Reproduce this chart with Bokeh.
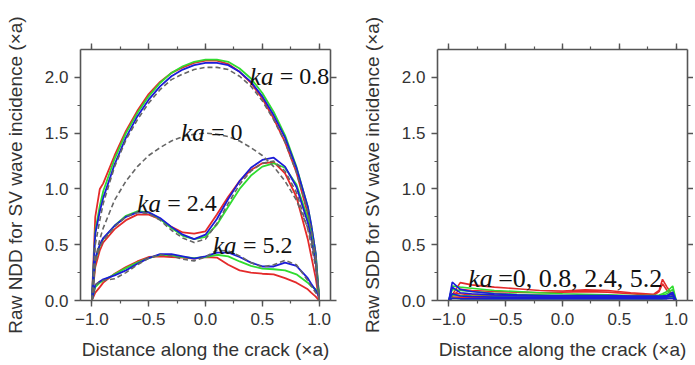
from bokeh.plotting import figure
from bokeh.layouts import row
from bokeh.models import LinearAxis, FixedTicker, CustomJSTickFormatter, Range1d
from bokeh.core.properties import value
from bokeh.embed import file_html
from bokeh.resources import INLINE

# ---------------- data ----------------
x_left = [-1, -0.97, -0.93, -0.9, -0.8, -0.7, -0.6, -0.5, -0.4, -0.3, -0.2, -0.1,
          0, 0.1, 0.2, 0.3, 0.4, 0.5, 0.6, 0.7, 0.8, 0.9, 0.93, 0.97, 1.0]

# ka = 0 (analytic, dashed)
ndd_ka0_ref = [0, 0.36, 0.55, 0.65, 0.9, 1.07, 1.2, 1.3, 1.37, 1.43, 1.47, 1.49,
               1.5, 1.49, 1.47, 1.43, 1.37, 1.3, 1.2, 1.07, 0.9, 0.65, 0.55, 0.36, 0]

# ka = 0.8
ndd_08_ref = [0, 0.5, 0.72, 0.87, 1.2, 1.44, 1.62, 1.77, 1.89, 1.98, 2.03, 2.07,
              2.09, 2.09, 2.07, 2.01, 1.92, 1.79, 1.62, 1.42, 1.15, 0.8, 0.64, 0.4, 0]
ndd_08_red = [0, 0.75, 1.0, 1.05, 1.3, 1.52, 1.7, 1.85, 1.96, 2.04, 2.09, 2.13,
              2.15, 2.15, 2.12, 2.05, 1.95, 1.81, 1.63, 1.42, 1.15, 0.78, 0.62, 0.35, 0]
ndd_08_green = [0, 0.62, 0.85, 0.98, 1.27, 1.5, 1.68, 1.83, 1.95, 2.04, 2.1, 2.14,
                2.16, 2.16, 2.14, 2.08, 1.99, 1.86, 1.69, 1.48, 1.2, 0.84, 0.68, 0.42, 0.02]
ndd_08_blue = [0, 0.6, 0.8, 0.92, 1.22, 1.46, 1.65, 1.8, 1.92, 2.01, 2.07, 2.11,
               2.13, 2.13, 2.11, 2.05, 1.96, 1.83, 1.66, 1.46, 1.19, 0.84, 0.68, 0.42, 0]

# ka = 2.4
ndd_24_ref = [0, 0.34, 0.48, 0.54, 0.66, 0.75, 0.79, 0.78, 0.72, 0.63, 0.56, 0.52,
              0.55, 0.69, 0.87, 1.04, 1.16, 1.23, 1.25, 1.16, 0.97, 0.64, 0.5, 0.3, 0]
ndd_24_red = [0, 0.3, 0.45, 0.52, 0.64, 0.72, 0.77, 0.77, 0.73, 0.66, 0.61, 0.6,
              0.62, 0.77, 0.93, 1.07, 1.17, 1.23, 1.24, 1.14, 0.93, 0.55, 0.4, 0.2, 0]
ndd_24_green = [0, 0.36, 0.49, 0.55, 0.67, 0.76, 0.8, 0.79, 0.73, 0.65, 0.58, 0.55,
                0.57, 0.68, 0.84, 1.0, 1.12, 1.2, 1.23, 1.19, 1.04, 0.74, 0.6, 0.36, 0.05]
ndd_24_blue = [0, 0.38, 0.5, 0.56, 0.67, 0.75, 0.79, 0.79, 0.74, 0.66, 0.59, 0.55,
               0.59, 0.73, 0.91, 1.07, 1.19, 1.26, 1.28, 1.2, 1.02, 0.7, 0.56, 0.33, 0.02]

# ka = 5.2
ndd_52_ref = [0, 0.14, 0.17, 0.18, 0.195, 0.25, 0.32, 0.38, 0.41, 0.4, 0.37, 0.355,
              0.39, 0.45, 0.445, 0.4, 0.34, 0.3, 0.32, 0.36, 0.32, 0.18, 0.13, 0.07, 0.02]
ndd_52_red = [0, 0.07, 0.12, 0.16, 0.24, 0.3, 0.35, 0.39, 0.395, 0.39, 0.385, 0.375,
              0.39, 0.385, 0.32, 0.27, 0.25, 0.24, 0.235, 0.2, 0.16, 0.1, 0.07, 0.035, 0.0]
ndd_52_green = [0, 0.12, 0.16, 0.18, 0.235, 0.29, 0.34, 0.38, 0.41, 0.405, 0.39, 0.38,
                0.39, 0.41, 0.395, 0.35, 0.31, 0.285, 0.28, 0.27, 0.235, 0.16, 0.13, 0.1, 0.07]
ndd_52_blue = [0, 0.14, 0.17, 0.19, 0.225, 0.27, 0.33, 0.38, 0.415, 0.415, 0.395, 0.375,
               0.395, 0.43, 0.43, 0.39, 0.34, 0.305, 0.305, 0.34, 0.31, 0.2, 0.15, 0.09, 0.03]

x_right = [-1, -0.97, -0.9, -0.8, -0.6, -0.4, -0.2, 0, 0.2, 0.4, 0.6, 0.8,
           0.85, 0.88, 0.92, 0.97, 1.0]
sdd_red = [
    [0, 0.05, 0.16, 0.14, 0.12, 0.105, 0.09, 0.085, 0.095, 0.09, 0.07, 0.055, 0.09, 0.19, 0.12, 0.05, 0],
    [0, 0.04, 0.1, 0.09, 0.08, 0.075, 0.07, 0.075, 0.08, 0.075, 0.06, 0.045, 0.08, 0.15, 0.09, 0.04, 0],
    [0, 0.06, 0.06, 0.05, 0.045, 0.04, 0.04, 0.04, 0.045, 0.045, 0.04, 0.035, 0.04, 0.045, 0.04, 0.03, 0],
    [0, 0.03, 0.03, 0.03, 0.025, 0.025, 0.025, 0.025, 0.025, 0.025, 0.02, 0.02, 0.02, 0.025, 0.02, 0.02, 0],
]
sdd_green = [
    [0, 0.13, 0.12, 0.11, 0.09, 0.08, 0.07, 0.06, 0.055, 0.05, 0.045, 0.045, 0.05, 0.06, 0.08, 0.13, 0],
    [0, 0.1, 0.09, 0.08, 0.065, 0.055, 0.05, 0.045, 0.04, 0.04, 0.035, 0.035, 0.04, 0.05, 0.06, 0.1, 0],
    [0, 0.05, 0.045, 0.04, 0.035, 0.03, 0.03, 0.03, 0.03, 0.03, 0.025, 0.025, 0.025, 0.03, 0.04, 0.06, 0],
    [0, 0.02, 0.015, 0.015, 0.015, 0.015, 0.015, 0.015, 0.015, 0.015, 0.015, 0.015, 0.015, 0.015, 0.02, 0.03, 0],
]
sdd_blue = [
    [0, 0.165, 0.1, 0.08, 0.06, 0.05, 0.045, 0.045, 0.045, 0.045, 0.04, 0.04, 0.04, 0.04, 0.045, 0.075, 0],
    [0, 0.12, 0.07, 0.06, 0.05, 0.045, 0.04, 0.04, 0.04, 0.04, 0.035, 0.035, 0.035, 0.035, 0.04, 0.06, 0],
    [0, 0.06, 0.04, 0.035, 0.03, 0.03, 0.03, 0.03, 0.03, 0.03, 0.03, 0.03, 0.03, 0.03, 0.03, 0.04, 0],
    [0, 0.02, 0.015, 0.015, 0.015, 0.015, 0.015, 0.015, 0.015, 0.015, 0.015, 0.015, 0.015, 0.015, 0.015, 0.02, 0],
]

x_ticks = [-1.0, -0.5, 0.0, 0.5, 1.0]
x_minor = [-1.0, -0.75, -0.5, -0.25, 0.0, 0.25, 0.5, 0.75, 1.0]
y_ticks = [0.0, 0.5, 1.0, 1.5, 2.0]
y_minor = [0.0, 0.25, 0.5, 0.75, 1.0, 1.25, 1.5, 1.75, 2.0]

# ---------------- style ----------------
RED = "#e42a2a"
GREEN = "#2fdc2f"
BLUE = "#1c1cd8"
GRAY = "#666666"
AX = "#555555"
TXT = "#333333"
SANS = "Liberation Sans"
SERIF = "Liberation Serif"


def style_axis(ax, ticks, minor, labels=True):
    ax.ticker = FixedTicker(ticks=ticks, minor_ticks=minor)
    ax.axis_line_color = AX
    ax.axis_line_width = 1.6
    ax.major_tick_line_color = AX
    ax.major_tick_line_width = 1.4
    ax.minor_tick_line_color = AX
    ax.minor_tick_line_width = 1.2
    ax.major_tick_out = 6
    ax.major_tick_in = 0
    ax.minor_tick_out = 3
    ax.minor_tick_in = 0
    ax.major_label_text_font = SANS
    ax.major_label_text_font_size = "17px"
    ax.major_label_text_color = TXT
    ax.major_label_standoff = 6
    if labels:
        ax.formatter = CustomJSTickFormatter(code="return (tick < 0 ? '\u2212' : '') + Math.abs(tick).toFixed(1);")
    else:
        ax.formatter = CustomJSTickFormatter(code="return '';")
        ax.major_label_standoff = 0


def make_fig(ylabel, min_left, min_right):
    p = figure(frame_width=250, frame_height=251,
               x_range=Range1d(-1.1, 1.1), y_range=Range1d(0, 2.25),
               output_backend="svg", toolbar_location=None,
               min_border_left=min_left, min_border_right=min_right,
               min_border_top=49, min_border_bottom=60)
    p.background_fill_color = "white"
    p.border_fill_color = "white"
    p.outline_line_color = None
    p.xgrid.visible = False
    p.ygrid.visible = False
    style_axis(p.xaxis[0], x_ticks, x_minor)
    style_axis(p.yaxis[0], y_ticks, y_minor)
    for a in (p.xaxis[0], p.yaxis[0]):
        a.axis_label_text_font = SANS
        a.axis_label_text_font_size = "19px"
        a.axis_label_text_font_style = "normal"
        a.axis_label_text_color = TXT
    p.xaxis[0].axis_label = "Distance along the crack (\u00d7a)"
    p.xaxis[0].axis_label_standoff = 11
    p.yaxis[0].axis_label = ylabel
    p.yaxis[0].axis_label_standoff = 16
    top = LinearAxis()
    style_axis(top, x_ticks, x_minor, labels=False)
    p.add_layout(top, "above")
    right = LinearAxis()
    style_axis(right, y_ticks, y_minor, labels=False)
    p.add_layout(right, "right")
    return p


def ka_label(p, x, y, rest, ka_size="25px", size="24px", gap=30):
    p.text(x=[x], y=[y], text=["ka"], text_font=value(SERIF), text_font_style="italic",
           text_font_size=ka_size, text_color="#111111", text_baseline="alphabetic",
           text_align="left")
    p.text(x=[x], y=[y], text=[rest], text_font=value(SERIF), text_font_style="normal",
           text_font_size=size, text_color="#111111", text_baseline="alphabetic",
           text_align="left", x_offset=gap)


# ---------------- left panel ----------------
p1 = make_fig("Raw NDD for SV wave incidence (\u00d7a)", 80, 15)
LW = 1.8
for red, green, blue in [(ndd_08_red, ndd_08_green, ndd_08_blue),
                         (ndd_24_red, ndd_24_green, ndd_24_blue),
                         (ndd_52_red, ndd_52_green, ndd_52_blue)]:
    p1.line(x_left, red, line_color=RED, line_width=LW)
    p1.line(x_left, green, line_color=GREEN, line_width=LW)
    p1.line(x_left, blue, line_color=BLUE, line_width=LW)
for ref in (ndd_ka0_ref, ndd_08_ref, ndd_24_ref, ndd_52_ref):
    p1.line(x_left, ref, line_color=GRAY, line_width=1.6, line_dash="5 3")

ka_label(p1, 0.39, 2.01, "= 0.8")
ka_label(p1, -0.215, 1.51, "= 0")
ka_label(p1, -0.60, 0.87, "= 2.4")
ka_label(p1, 0.065, 0.494, "= 5.2")

# ---------------- right panel ----------------
p2 = make_fig("Raw SDD for SV wave incidence (\u00d7a)", 92, 6)
for ys in sdd_red:
    p2.line(x_right, ys, line_color=RED, line_width=1.6)
for ys in sdd_green:
    p2.line(x_right, ys, line_color=GREEN, line_width=1.6)
for ys in sdd_blue:
    p2.line(x_right, ys, line_color=BLUE, line_width=1.6)
ka_label(p2, -0.83, 0.2, "=0, 0.8, 2.4, 5.2", ka_size="26px", size="26px", gap=30)

layout = row(p1, p2)
layout.spacing = 0

with open("out.html", "w") as f:
    f.write(file_html(layout, INLINE))
